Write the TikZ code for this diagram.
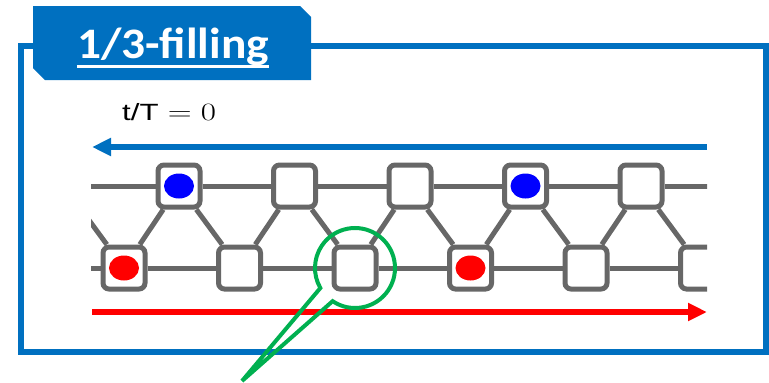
\documentclass[tikz,border=0pt]{standalone}
\usepackage{fontspec}
\usepackage{graphicx}
\newfontfamily\calibri{Carlito}
\newfontfamily\arial{Liberation Sans}
\usetikzlibrary{arrows.meta,calc,shapes.geometric}
\definecolor{frameblue}{HTML}{0070C0}
\definecolor{latgray}{HTML}{676767}
\definecolor{lensgreen}{HTML}{00B050}
\begin{document}
\begin{tikzpicture}[x=1pt, y=1pt,
  site/.style={rectangle, draw=latgray, line width=5, fill=white, rounded corners=6, minimum size=42, inner sep=0},
  bond/.style={draw=latgray, line width=5},
  dot/.style={ellipse, fill=#1, minimum width=30, minimum height=25, inner sep=0},
  flow/.style={draw=#1, line width=5.5, -{Triangle[length=19pt, width=17pt]}},
  lensline/.style={draw=lensgreen, line width=4}]
\useasboundingbox (0,0) rectangle (769,-383);

% frame and tab
\draw[frameblue, line width=6] (20.5,-46) rectangle (766,-352);
\fill[frameblue] (33,-6) -- (300,-6) -- (311,-17) -- (311,-80) -- (45,-80) -- (33,-68) -- cycle;
\node [anchor=base, inner sep=0, text=white, font=\calibri\bfseries\fontsize{43.5}{50}\selectfont] (ttl) at (173,-58) {\scalebox{1.09}[1]{1/3-filling}};
\draw[white, line width=2.5] ($(ttl.base west)+(0,-8.5)$) -- ($(ttl.base east)+(0,-8.5)$);

\node [anchor=base west, inner sep=0, font=\fontsize{23.5}{28}\selectfont] (time) at (122,-120) {\scalebox{1.33}[1]{$\mbox{\arial t/T} = 0$}};

% currents
\coordinate (topR) at (707,-147);
\coordinate (topL) at (92,-147);
\coordinate (botL) at (92,-312);
\coordinate (botR) at (707,-312);
\draw[flow=frameblue] (topR) -- (topL);
\draw[flow=red] (botL) -- (botR);

% lattice
\begin{scope}
\clip (91,-140) rectangle (707,-300);
\coordinate (T0) at (64,-186);
\coordinate (T6) at (756.5,-186);
\coordinate (B0) at (8.5,-268);
\node [site] (T1) at (179,-186) {};
\node [site] (T2) at (294.5,-186) {};
\node [site] (T3) at (410,-186) {};
\node [site] (T4) at (525.5,-186) {};
\node [site] (T5) at (641,-186) {};
\node [site] (B1) at (124,-268) {};
\node [site] (B2) at (239.5,-268) {};
\node [site] (B3) at (355,-268) {};
\node [site] (B4) at (470.5,-268) {};
\node [site] (B5) at (586,-268) {};
\node [site] (B6) at (701.5,-268) {};

\draw[bond] (T0) -- (T1) -- (T2) -- (T3) -- (T4) -- (T5) -- (T6);
\draw[bond] (B0) -- (B1) -- (B2) -- (B3) -- (B4) -- (B5) -- (B6);
\draw[bond] (T0) -- (B1) -- (T1) -- (B2) -- (T2) -- (B3) -- (T3) -- (B4) -- (T4) -- (B5) -- (T5) -- (B6);

\node [dot=blue] (up1) at (T1) {};
\node [dot=blue] (up2) at (T4) {};
\node [dot=red] (dn1) at (B1) {};
\node [dot=red] (dn2) at (B4) {};
\end{scope}

% magnifier on the middle site
\coordinate (tip) at (242,-381);
\draw[lensline] (B3.center) ++(236:40) arc[start angle=236, end angle=570, radius=40] -- (tip) -- cycle;

\end{tikzpicture}
\end{document}
